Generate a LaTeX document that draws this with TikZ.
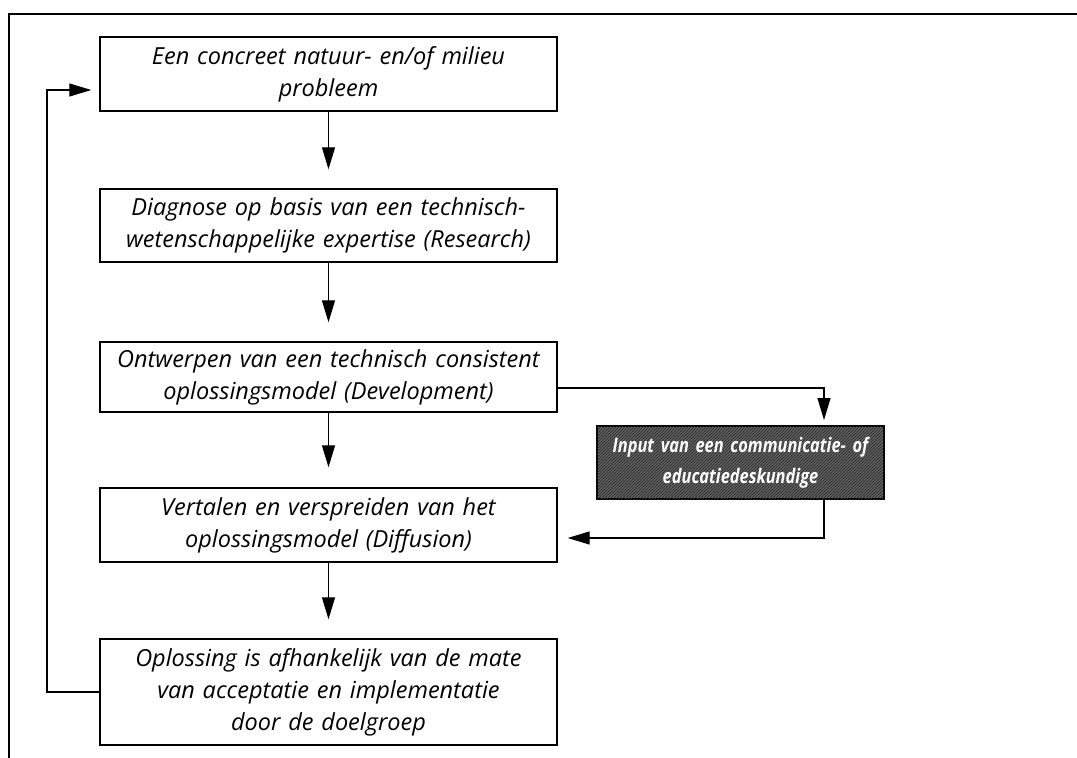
\documentclass[tikz,border=0pt]{standalone}
\usepackage{fontspec}
\setmainfont{Open Sans}
\newfontfamily\darkfont[FakeStretch=0.82]{Open Sans}
\usetikzlibrary{arrows.meta,calc,patterns}
\begin{document}
\begin{tikzpicture}[x=1pt,y=-1pt,
  box/.style={draw,line width=1.4pt,minimum width=457pt,text width=455pt,align=center,inner sep=0pt,
    font=\fontsize{23.5}{32}\selectfont\itshape},
  darkbox/.style={draw,line width=1.4pt,fill=black!62,
    postaction={pattern=north east lines,pattern color=black!85},
    minimum width=287pt,minimum height=73pt,text width=285pt,align=center,inner sep=0pt,
    text=white,font=\darkfont\fontsize{20}{31}\selectfont\bfseries\itshape},
  arr/.style={line width=1.2pt,-{Triangle[length=22pt,width=13pt]}}]
\useasboundingbox (0,0) rectangle (1077,758);
\draw[line width=2.5pt] (9,758) -- (9,14) -- (1077,14);
\node[box,minimum height=74pt] (b1) at (328.5,74) {Een concreet natuur- en/of milieu\\probleem};
\node[box,minimum height=73pt] (b2) at (328.5,225.5) {Diagnose op basis van een technisch-\\wetenschappelijke expertise (Research)};
\node[box,minimum height=70pt] (b3) at (328.5,377) {Ontwerpen van een technisch consistent\\oplossingsmodel (Development)};
\node[box,minimum height=74pt] (b4) at (328.5,525) {Vertalen en verspreiden van het\\oplossingsmodel (Diffusion)};
\node[box,minimum height=106pt] (b5) at (328.5,692) {Oplossing is afhankelijk van de mate\\van acceptatie en implementatie\\door de doelgroep};
\node[darkbox] (dk) at (740.5,462.5) {Input van een communicatie- of\\educatiedeskundige};
\coordinate (dkin) at (824,420);
\coordinate (dkout) at (824,499);
\coordinate (fb) at (47,90);
\draw[arr] (b1.south) -- ([yshift=19pt]b2.north);
\draw[arr] (b2.south) -- ([yshift=19pt]b3.north);
\draw[arr] (b3.south) -- ([yshift=20pt]b4.north);
\draw[arr] (b4.south) -- ([yshift=19pt]b5.north);
\draw[arr] ([yshift=-11pt]b3.east) -| (dkin);
\draw[arr] (dkout) |- ([xshift=10pt,yshift=-13pt]b4.east);
\draw[arr] (b5.west) -| (fb) -- ([xshift=-8pt,yshift=-16pt]b1.west);
\end{tikzpicture}
\end{document}
